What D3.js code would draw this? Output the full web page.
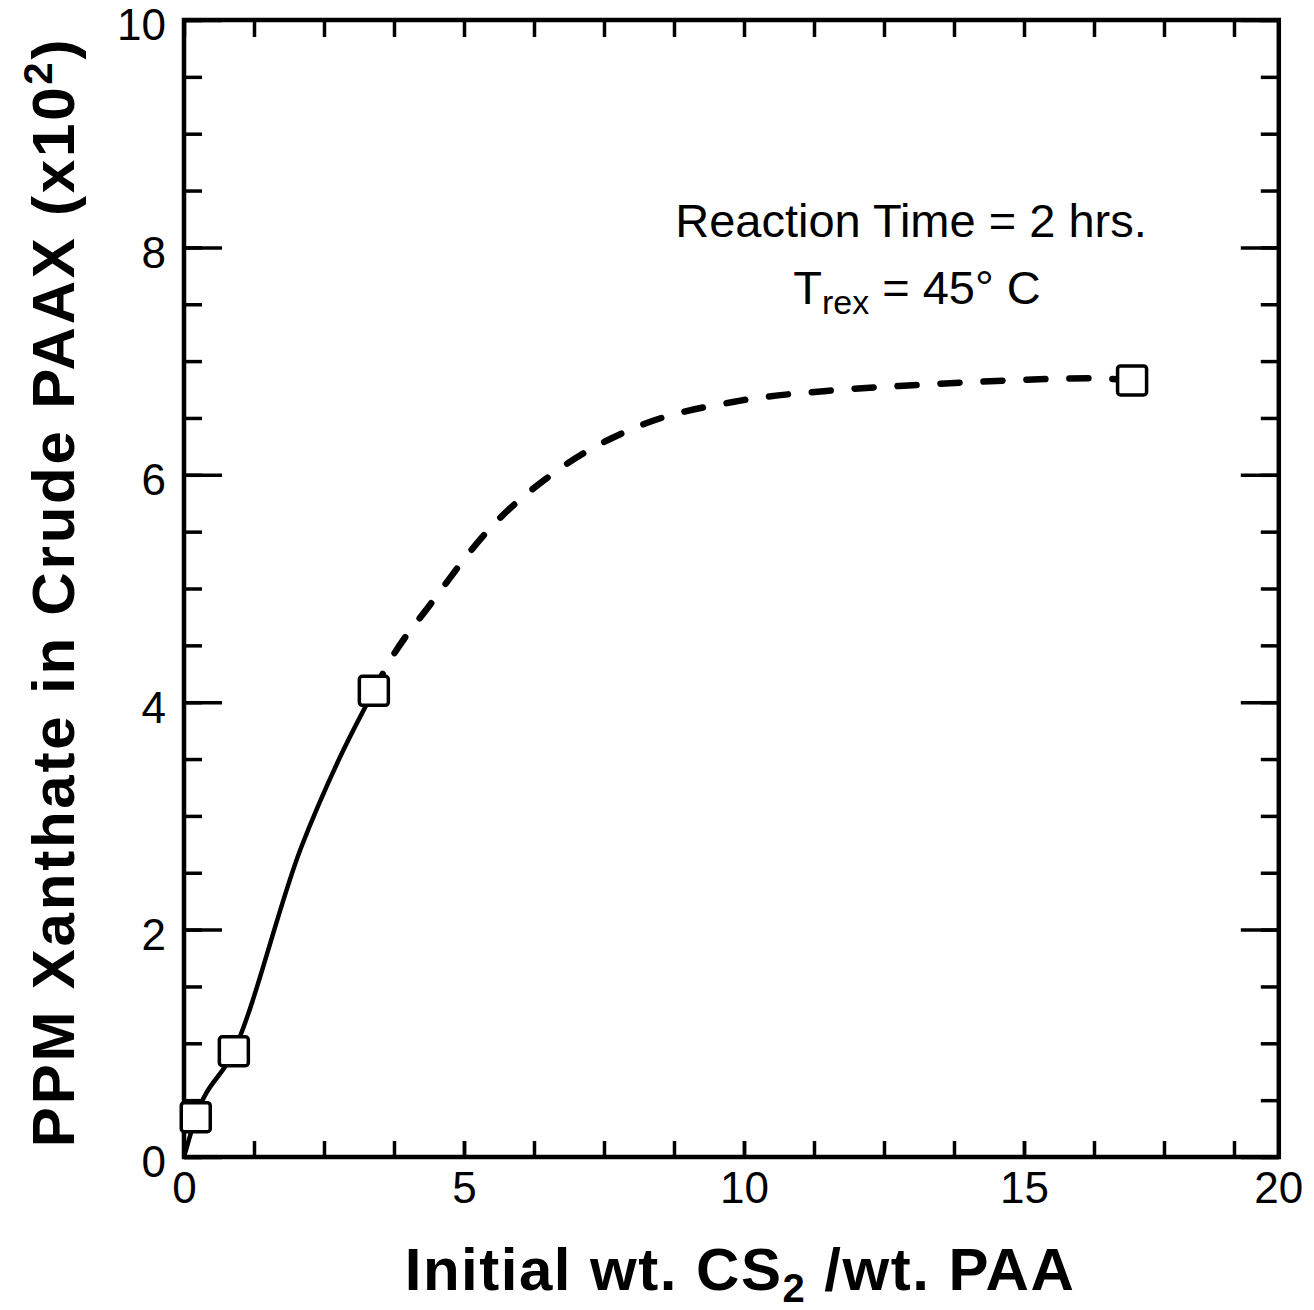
<!DOCTYPE html>
<html>
<head>
<meta charset="utf-8">
<script src="https://cdn.jsdelivr.net/npm/d3@7"></script>
<style>
  body { margin: 0; background: #fff; }
  text { font-family: "Liberation Sans", Arial, Helvetica, sans-serif; fill: #000; }
</style>
</head>
<body>
<script>
// measured points (x = initial wt CS2 / wt PAA, y = ppm xanthate x10^2)
var pointX = [0.21, 0.89, 3.39, 16.93];
var pointY = [0.35, 0.93, 4.10, 6.83];

// hand drawn solid fit, from origin to third point
var solidX = [0, 0.21, 0.89, 2.09, 2.77, 3.39];
var solidY = [0, 0.35, 0.93, 2.72, 3.50, 4.10];

// dashed extrapolation to the last point
var dashX = [3.39, 3.66, 4.43, 5.41, 6.70, 8.13, 9.91, 11.52, 13.09, 14.73, 16.21, 16.93];
var dashY = [4.10, 4.35, 4.88, 5.50, 6.05, 6.43, 6.65, 6.74, 6.79, 6.83, 6.85, 6.83];

var xMajor = [0, 5, 10, 15];
var xEndLabel = "20";
var yMajor = [0, 2, 4, 6, 8, 10];

var width = 1314,
    height = 1310;

// the printed frame stops a little short of the 20 tick
var xFrameMax = 19.55;

var svg = d3.select("body")
  .append("svg")
  .attr("width", width)
  .attr("height", height);

var x = d3.scaleLinear()
    .domain([0, 20])
    .range([184, 184 + 56 * 20]);

var y = d3.scaleLinear()
    .domain([0, 10])
    .range([1157, 20]);

var xMinor = d3.range(0, xFrameMax, 1.25);
var yMinor = d3.range(0, 10.01, 0.5);

function styleAxis(g) {
  g.select(".domain").remove();
  g.selectAll(".tick line")
    .attr("stroke", "#000")
    .attr("stroke-width", 3.5);
  g.selectAll(".tick text")
    .attr("font-size", 44)
    .attr("fill", "#000")
    .attr("font-family", "Liberation Sans, Arial, sans-serif");
}

// bottom
svg.append("g")
    .attr("transform", "translate(0," + y(0) + ")")
    .call(d3.axisBottom(x).tickValues(xMinor).tickSize(-16).tickFormat(""))
    .call(styleAxis);
var bottomLabels = svg.append("g")
    .attr("transform", "translate(0," + y(0) + ")")
    .call(d3.axisBottom(x).tickValues(xMajor).tickSize(-16).tickPadding(15).tickFormat(d3.format("d")))
    .call(styleAxis);
bottomLabels.append("text")
    .attr("x", x(xFrameMax))
    .attr("y", 15)
    .attr("dy", "0.71em")
    .attr("text-anchor", "middle")
    .attr("font-size", 44)
    .attr("fill", "#000")
    .text(xEndLabel);

// top
svg.append("g")
    .attr("transform", "translate(0," + y(10) + ")")
    .call(d3.axisTop(x).tickValues(xMinor).tickSize(-17).tickFormat(""))
    .call(styleAxis);

// left
svg.append("g")
    .attr("transform", "translate(" + x(0) + ",0)")
    .call(d3.axisLeft(y).tickValues(yMinor).tickSize(-18).tickFormat(""))
    .call(styleAxis);
svg.append("g")
    .attr("transform", "translate(" + x(0) + ",0)")
    .call(d3.axisLeft(y).tickValues(yMajor).tickSize(-38).tickPadding(18).tickFormat(d3.format("d")))
    .call(styleAxis)
  .selectAll(".tick text")
    .attr("dy", "0.45em");

// right
svg.append("g")
    .attr("transform", "translate(" + x(xFrameMax) + ",0)")
    .call(d3.axisRight(y).tickValues(yMinor).tickSize(-18).tickFormat(""))
    .call(styleAxis);
svg.append("g")
    .attr("transform", "translate(" + x(xFrameMax) + ",0)")
    .call(d3.axisRight(y).tickValues(yMajor).tickSize(-38).tickFormat(""))
    .call(styleAxis);

// frame
svg.append("rect")
    .attr("x", x(0))
    .attr("y", y(10))
    .attr("width", x(xFrameMax) - x(0))
    .attr("height", y(0) - y(10))
    .attr("fill", "none")
    .attr("stroke", "#000")
    .attr("stroke-width", 4.5);

var line = d3.line()
    .x(function(d) { return x(d[0]); })
    .y(function(d) { return y(d[1]); })
    .curve(d3.curveMonotoneX);

svg.append("path")
    .datum(solidX.map(function(v, i) { return [v, solidY[i]]; }))
    .attr("fill", "none")
    .attr("stroke", "#000")
    .attr("stroke-width", 4.5)
    .attr("d", line);

svg.append("path")
    .datum(dashX.map(function(v, i) { return [v, dashY[i]]; }))
    .attr("fill", "none")
    .attr("stroke", "#000")
    .attr("stroke-width", 6.5)
    .attr("stroke-linecap", "round")
    .attr("stroke-dasharray", "19,24")
    .attr("d", line);

var sq = 29;
svg.append("g")
  .selectAll("rect")
  .data(pointX.map(function(v, i) { return [v, pointY[i]]; }))
  .enter().append("rect")
    .attr("x", function(d) { return x(d[0]) - sq / 2; })
    .attr("y", function(d) { return y(d[1]) - sq / 2; })
    .attr("width", sq)
    .attr("height", sq)
    .attr("rx", 3)
    .attr("fill", "#fff")
    .attr("stroke", "#000")
    .attr("stroke-width", 3.5);

// annotation
var note = svg.append("g")
    .attr("font-size", 47);
note.append("text")
    .attr("x", 911)
    .attr("y", 237)
    .attr("text-anchor", "middle")
    .text("Reaction Time = 2 hrs.");
var t2 = note.append("text")
    .attr("x", 917)
    .attr("y", 304)
    .attr("text-anchor", "middle");
t2.append("tspan").text("T");
t2.append("tspan").attr("font-size", 34).attr("dy", 10).text("rex");
t2.append("tspan").attr("dy", -10).text(" = 45° C");

// axis titles
var xt = svg.append("text")
    .attr("x", 740)
    .attr("y", 1290)
    .attr("text-anchor", "middle")
    .attr("font-size", 60)
    .attr("letter-spacing", 1.5)
    .attr("font-weight", "bold");
xt.append("tspan").text("Initial wt. CS");
xt.append("tspan").attr("font-size", 40).attr("dy", 12).text("2");
xt.append("tspan").attr("dy", -12).text(" /wt. PAA");

var yt = svg.append("text")
    .attr("transform", "translate(74,592) rotate(-90)")
    .attr("text-anchor", "middle")
    .attr("font-size", 60)
    .attr("letter-spacing", 2.8)
    .attr("font-weight", "bold");
yt.append("tspan").text("PPM Xanthate in Crude PAAX (x10");
yt.append("tspan").attr("font-size", 40).attr("dy", -22).text("2");
yt.append("tspan").attr("dy", 22).text(")");
</script>
</body>
</html>
